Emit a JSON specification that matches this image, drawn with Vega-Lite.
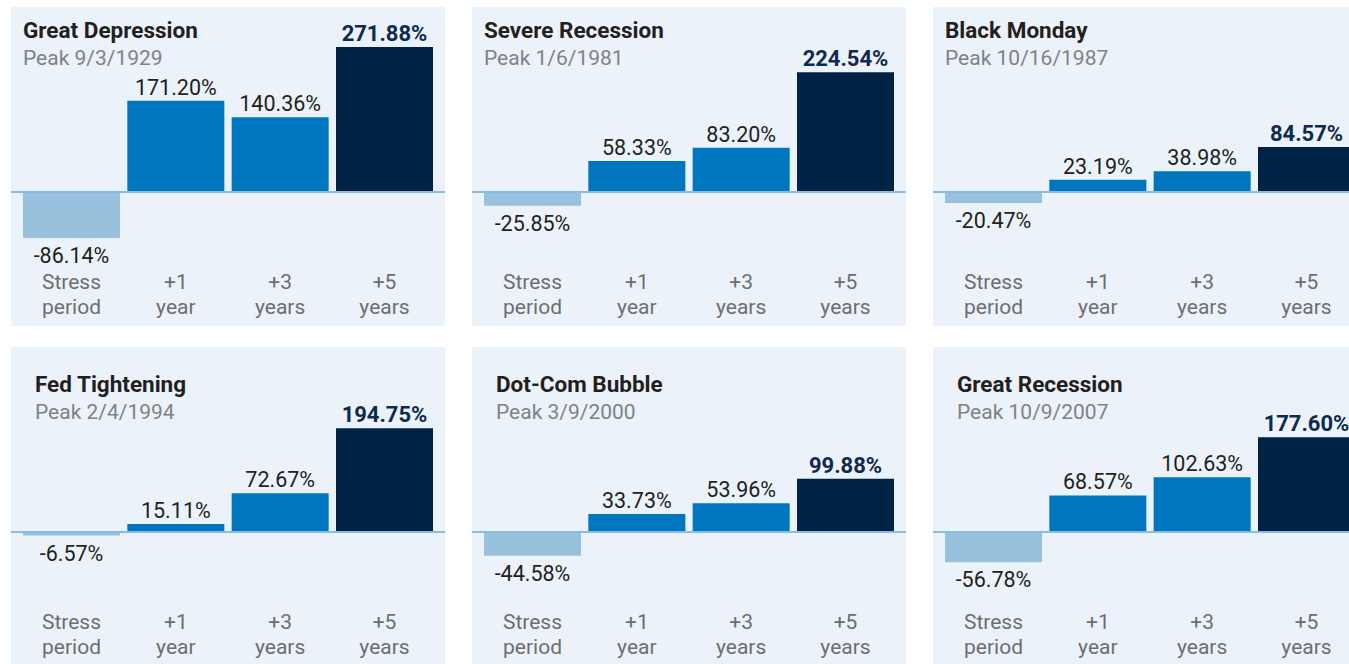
{
  "$schema": "https://vega.github.io/schema/vega-lite/v6.json",
  "background": "#ffffff",
  "padding": {"left": 10, "top": 7, "right": 0, "bottom": 0},
  "data": {"values": [
    {"event": "Great Depression", "period": "Stress period", "pct": -86.14},
    {"event": "Great Depression", "period": "+1 year", "pct": 171.20},
    {"event": "Great Depression", "period": "+3 years", "pct": 140.36},
    {"event": "Great Depression", "period": "+5 years", "pct": 271.88},
    {"event": "Severe Recession", "period": "Stress period", "pct": -25.85},
    {"event": "Severe Recession", "period": "+1 year", "pct": 58.33},
    {"event": "Severe Recession", "period": "+3 years", "pct": 83.20},
    {"event": "Severe Recession", "period": "+5 years", "pct": 224.54},
    {"event": "Black Monday", "period": "Stress period", "pct": -20.47},
    {"event": "Black Monday", "period": "+1 year", "pct": 23.19},
    {"event": "Black Monday", "period": "+3 years", "pct": 38.98},
    {"event": "Black Monday", "period": "+5 years", "pct": 84.57},
    {"event": "Fed Tightening", "period": "Stress period", "pct": -6.57},
    {"event": "Fed Tightening", "period": "+1 year", "pct": 15.11},
    {"event": "Fed Tightening", "period": "+3 years", "pct": 72.67},
    {"event": "Fed Tightening", "period": "+5 years", "pct": 194.75},
    {"event": "Dot-Com Bubble", "period": "Stress period", "pct": -44.58},
    {"event": "Dot-Com Bubble", "period": "+1 year", "pct": 33.73},
    {"event": "Dot-Com Bubble", "period": "+3 years", "pct": 53.96},
    {"event": "Dot-Com Bubble", "period": "+5 years", "pct": 99.88},
    {"event": "Great Recession", "period": "Stress period", "pct": -56.78},
    {"event": "Great Recession", "period": "+1 year", "pct": 68.57},
    {"event": "Great Recession", "period": "+3 years", "pct": 102.63},
    {"event": "Great Recession", "period": "+5 years", "pct": 177.60}
  ]},
  "transform": [{"calculate": "(datum.pct < 0 ? '-' : '') + format(abs(datum.pct), '.2f') + '%'", "as": "label"}],
  "columns": 3,
  "spacing": {"row": 21, "column": 27},
  "bounds": "flush",
  "concat": [
    {
      "title": {"text": "Great Depression", "subtitle": "Peak 9/3/1929", "dx": 12, "offset": -62},
      "width": 434, "height": 319,
      "transform": [{"filter": "datum.event === 'Great Depression'"}],
      "encoding": {"x": {"field": "period", "type": "nominal", "sort": ["Stress period", "+1 year", "+3 years", "+5 years"], "scale": {"paddingInner": 0.0703, "paddingOuter": 0.115}, "axis": {"title": null}}},
      "layer": [
        {"mark": {"type": "bar"}, "encoding": {"y": {"field": "pct", "type": "quantitative", "scale": {"domain": [-251.4, 347.1], "nice": false, "zero": false}, "axis": null}, "color": {"field": "period", "type": "nominal", "scale": {"domain": ["Stress period", "+1 year", "+3 years", "+5 years"], "range": ["#97c1dd", "#0076bf", "#0076bf", "#002244"]}, "legend": null}}},
        {"mark": {"type": "rule", "color": "#88bde4", "strokeWidth": 1.5}, "encoding": {"y": {"datum": 0}, "x": null}},
        {"transform": [{"filter": "datum.pct > 0 && datum.period !== '+5 years'"}], "mark": {"type": "text", "baseline": "alphabetic", "dy": -6}, "encoding": {"y": {"field": "pct", "type": "quantitative"}, "text": {"field": "label"}}},
        {"transform": [{"filter": "datum.period === '+5 years'"}], "mark": {"type": "text", "baseline": "alphabetic", "dy": -6, "fontWeight": "bold", "fontSize": 22, "color": "#0f2a4f"}, "encoding": {"y": {"field": "pct", "type": "quantitative"}, "text": {"field": "label"}}},
        {"transform": [{"filter": "datum.pct < 0"}], "mark": {"type": "text", "baseline": "top", "dy": 8}, "encoding": {"y": {"field": "pct", "type": "quantitative"}, "text": {"field": "label"}}}
      ]
    },
    {
      "title": {"text": "Severe Recession", "subtitle": "Peak 1/6/1981", "dx": 12, "offset": -62},
      "width": 434, "height": 319,
      "transform": [{"filter": "datum.event === 'Severe Recession'"}],
      "encoding": {"x": {"field": "period", "type": "nominal", "sort": ["Stress period", "+1 year", "+3 years", "+5 years"], "scale": {"paddingInner": 0.0703, "paddingOuter": 0.115}, "axis": {"title": null}}},
      "layer": [
        {"mark": {"type": "bar"}, "encoding": {"y": {"field": "pct", "type": "quantitative", "scale": {"domain": [-251.4, 347.1], "nice": false, "zero": false}, "axis": null}, "color": {"field": "period", "type": "nominal", "scale": {"domain": ["Stress period", "+1 year", "+3 years", "+5 years"], "range": ["#97c1dd", "#0076bf", "#0076bf", "#002244"]}, "legend": null}}},
        {"mark": {"type": "rule", "color": "#88bde4", "strokeWidth": 1.5}, "encoding": {"y": {"datum": 0}, "x": null}},
        {"transform": [{"filter": "datum.pct > 0 && datum.period !== '+5 years'"}], "mark": {"type": "text", "baseline": "alphabetic", "dy": -6}, "encoding": {"y": {"field": "pct", "type": "quantitative"}, "text": {"field": "label"}}},
        {"transform": [{"filter": "datum.period === '+5 years'"}], "mark": {"type": "text", "baseline": "alphabetic", "dy": -6, "fontWeight": "bold", "fontSize": 22, "color": "#0f2a4f"}, "encoding": {"y": {"field": "pct", "type": "quantitative"}, "text": {"field": "label"}}},
        {"transform": [{"filter": "datum.pct < 0"}], "mark": {"type": "text", "baseline": "top", "dy": 8}, "encoding": {"y": {"field": "pct", "type": "quantitative"}, "text": {"field": "label"}}}
      ]
    },
    {
      "title": {"text": "Black Monday", "subtitle": "Peak 10/16/1987", "dx": 12, "offset": -62},
      "width": 434, "height": 319,
      "transform": [{"filter": "datum.event === 'Black Monday'"}],
      "encoding": {"x": {"field": "period", "type": "nominal", "sort": ["Stress period", "+1 year", "+3 years", "+5 years"], "scale": {"paddingInner": 0.0703, "paddingOuter": 0.115}, "axis": {"title": null}}},
      "layer": [
        {"mark": {"type": "bar"}, "encoding": {"y": {"field": "pct", "type": "quantitative", "scale": {"domain": [-251.4, 347.1], "nice": false, "zero": false}, "axis": null}, "color": {"field": "period", "type": "nominal", "scale": {"domain": ["Stress period", "+1 year", "+3 years", "+5 years"], "range": ["#97c1dd", "#0076bf", "#0076bf", "#002244"]}, "legend": null}}},
        {"mark": {"type": "rule", "color": "#88bde4", "strokeWidth": 1.5}, "encoding": {"y": {"datum": 0}, "x": null}},
        {"transform": [{"filter": "datum.pct > 0 && datum.period !== '+5 years'"}], "mark": {"type": "text", "baseline": "alphabetic", "dy": -6}, "encoding": {"y": {"field": "pct", "type": "quantitative"}, "text": {"field": "label"}}},
        {"transform": [{"filter": "datum.period === '+5 years'"}], "mark": {"type": "text", "baseline": "alphabetic", "dy": -6, "fontWeight": "bold", "fontSize": 22, "color": "#0f2a4f"}, "encoding": {"y": {"field": "pct", "type": "quantitative"}, "text": {"field": "label"}}},
        {"transform": [{"filter": "datum.pct < 0"}], "mark": {"type": "text", "baseline": "top", "dy": 8}, "encoding": {"y": {"field": "pct", "type": "quantitative"}, "text": {"field": "label"}}}
      ]
    },
    {
      "title": {"text": "Fed Tightening", "subtitle": "Peak 2/4/1994", "dx": 24, "offset": -76},
      "width": 434, "height": 319,
      "transform": [{"filter": "datum.event === 'Fed Tightening'"}],
      "encoding": {"x": {"field": "period", "type": "nominal", "sort": ["Stress period", "+1 year", "+3 years", "+5 years"], "scale": {"paddingInner": 0.0703, "paddingOuter": 0.115}, "axis": {"title": null}}},
      "layer": [
        {"mark": {"type": "bar"}, "encoding": {"y": {"field": "pct", "type": "quantitative", "scale": {"domain": [-251.4, 347.1], "nice": false, "zero": false}, "axis": null}, "color": {"field": "period", "type": "nominal", "scale": {"domain": ["Stress period", "+1 year", "+3 years", "+5 years"], "range": ["#97c1dd", "#0076bf", "#0076bf", "#002244"]}, "legend": null}}},
        {"mark": {"type": "rule", "color": "#88bde4", "strokeWidth": 1.5}, "encoding": {"y": {"datum": 0}, "x": null}},
        {"transform": [{"filter": "datum.pct > 0 && datum.period !== '+5 years'"}], "mark": {"type": "text", "baseline": "alphabetic", "dy": -6}, "encoding": {"y": {"field": "pct", "type": "quantitative"}, "text": {"field": "label"}}},
        {"transform": [{"filter": "datum.period === '+5 years'"}], "mark": {"type": "text", "baseline": "alphabetic", "dy": -6, "fontWeight": "bold", "fontSize": 22, "color": "#0f2a4f"}, "encoding": {"y": {"field": "pct", "type": "quantitative"}, "text": {"field": "label"}}},
        {"transform": [{"filter": "datum.pct < 0"}], "mark": {"type": "text", "baseline": "top", "dy": 8}, "encoding": {"y": {"field": "pct", "type": "quantitative"}, "text": {"field": "label"}}}
      ]
    },
    {
      "title": {"text": "Dot-Com Bubble", "subtitle": "Peak 3/9/2000", "dx": 24, "offset": -76},
      "width": 434, "height": 319,
      "transform": [{"filter": "datum.event === 'Dot-Com Bubble'"}],
      "encoding": {"x": {"field": "period", "type": "nominal", "sort": ["Stress period", "+1 year", "+3 years", "+5 years"], "scale": {"paddingInner": 0.0703, "paddingOuter": 0.115}, "axis": {"title": null}}},
      "layer": [
        {"mark": {"type": "bar"}, "encoding": {"y": {"field": "pct", "type": "quantitative", "scale": {"domain": [-251.4, 347.1], "nice": false, "zero": false}, "axis": null}, "color": {"field": "period", "type": "nominal", "scale": {"domain": ["Stress period", "+1 year", "+3 years", "+5 years"], "range": ["#97c1dd", "#0076bf", "#0076bf", "#002244"]}, "legend": null}}},
        {"mark": {"type": "rule", "color": "#88bde4", "strokeWidth": 1.5}, "encoding": {"y": {"datum": 0}, "x": null}},
        {"transform": [{"filter": "datum.pct > 0 && datum.period !== '+5 years'"}], "mark": {"type": "text", "baseline": "alphabetic", "dy": -6}, "encoding": {"y": {"field": "pct", "type": "quantitative"}, "text": {"field": "label"}}},
        {"transform": [{"filter": "datum.period === '+5 years'"}], "mark": {"type": "text", "baseline": "alphabetic", "dy": -6, "fontWeight": "bold", "fontSize": 22, "color": "#0f2a4f"}, "encoding": {"y": {"field": "pct", "type": "quantitative"}, "text": {"field": "label"}}},
        {"transform": [{"filter": "datum.pct < 0"}], "mark": {"type": "text", "baseline": "top", "dy": 8}, "encoding": {"y": {"field": "pct", "type": "quantitative"}, "text": {"field": "label"}}}
      ]
    },
    {
      "title": {"text": "Great Recession", "subtitle": "Peak 10/9/2007", "dx": 24, "offset": -76},
      "width": 434, "height": 319,
      "transform": [{"filter": "datum.event === 'Great Recession'"}],
      "encoding": {"x": {"field": "period", "type": "nominal", "sort": ["Stress period", "+1 year", "+3 years", "+5 years"], "scale": {"paddingInner": 0.0703, "paddingOuter": 0.115}, "axis": {"title": null}}},
      "layer": [
        {"mark": {"type": "bar"}, "encoding": {"y": {"field": "pct", "type": "quantitative", "scale": {"domain": [-251.4, 347.1], "nice": false, "zero": false}, "axis": null}, "color": {"field": "period", "type": "nominal", "scale": {"domain": ["Stress period", "+1 year", "+3 years", "+5 years"], "range": ["#97c1dd", "#0076bf", "#0076bf", "#002244"]}, "legend": null}}},
        {"mark": {"type": "rule", "color": "#88bde4", "strokeWidth": 1.5}, "encoding": {"y": {"datum": 0}, "x": null}},
        {"transform": [{"filter": "datum.pct > 0 && datum.period !== '+5 years'"}], "mark": {"type": "text", "baseline": "alphabetic", "dy": -6}, "encoding": {"y": {"field": "pct", "type": "quantitative"}, "text": {"field": "label"}}},
        {"transform": [{"filter": "datum.period === '+5 years'"}], "mark": {"type": "text", "baseline": "alphabetic", "dy": -6, "fontWeight": "bold", "fontSize": 22, "color": "#0f2a4f"}, "encoding": {"y": {"field": "pct", "type": "quantitative"}, "text": {"field": "label"}}},
        {"transform": [{"filter": "datum.pct < 0"}], "mark": {"type": "text", "baseline": "top", "dy": 8}, "encoding": {"y": {"field": "pct", "type": "quantitative"}, "text": {"field": "label"}}}
      ]
    }
  ],
  "config": {
    "font": "Roboto",
    "view": {"fill": "#ebf2f9", "stroke": null},
    "bar": {"cornerRadius": 0},
    "text": {"font": "Roboto", "fontSize": 21.5, "color": "#231f20"},
    "title": {"anchor": "start", "frame": "group", "font": "Roboto", "fontSize": 22.5, "fontWeight": "bold", "color": "#231f20", "subtitleFont": "Roboto", "subtitleFontSize": 21, "subtitleColor": "#808285", "subtitleFontWeight": "normal", "subtitlePadding": 5.5},
    "axisX": {"domain": false, "ticks": false, "tickSize": 0, "labelPadding": 0, "offset": -38, "labelAngle": 0, "labelBaseline": "alphabetic", "labelFont": "Roboto", "labelFontSize": 21, "labelLineHeight": 25, "labelColor": "#6d6e71", "labelExpr": "split(datum.label, ' ')", "grid": false}
  }
}
